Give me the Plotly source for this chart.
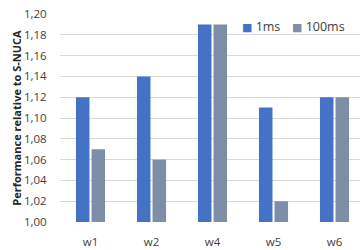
import plotly.graph_objects as go

categories = ["w1", "w2", "w4", "w5", "w6"]
s1_name = "1ms"
s1_values = [1.12, 1.14, 1.19, 1.11, 1.12]
s2_name = "100ms"
s2_values = [1.07, 1.06, 1.19, 1.02, 1.12]
y_ticks = [1.00, 1.02, 1.04, 1.06, 1.08, 1.10, 1.12, 1.14, 1.16, 1.18, 1.20]
baseline = 1.0
colors = ["#4472C4", "#7F8EA8"]

fig = go.Figure()
for name, vals, col in [(s1_name, s1_values, colors[0]), (s2_name, s2_values, colors[1])]:
    fig.add_trace(go.Bar(name=name, x=categories, y=[v - baseline for v in vals], base=baseline,
                         marker=dict(color=col, line=dict(width=0)), hoverinfo="skip"))

W, H = 360, 250
fig.update_layout(
    width=W, height=H,
    margin=dict(l=60, r=0, t=14, b=28, pad=0, autoexpand=False),
    paper_bgcolor="white", plot_bgcolor="white",
    barmode="group", bargap=0.49, bargroupgap=0.13,
    separators=", ",
    font=dict(family="Open Sans, DejaVu Sans, sans-serif", size=11, color="#404040"),
    showlegend=False,
    xaxis=dict(type="category", range=[-0.5, 4.418], showgrid=False, zeroline=False,
               showline=False, ticks="outside", ticklen=9, tickcolor="rgba(0,0,0,0)",
               automargin=False, tickfont=dict(size=11.5, color="#404040")),
    yaxis=dict(range=[1.0, 1.2], tickvals=y_ticks, tickformat=".2f", automargin=False,
               showgrid=True, gridcolor="#D9D9D9", gridwidth=1, zeroline=False,
               showline=False, ticks="outside", ticklen=10, tickcolor="rgba(0,0,0,0)",
               tickfont=dict(size=11.5, color="#404040"),
               title=dict(text="<b>Performance relative to S-NUCA</b>",
                          font=dict(size=11, color="#262626"), standoff=0)),
)

legend_x = [0.60, 0.765]
for name, col, lx in zip([s1_name, s2_name], colors, legend_x):
    fig.add_annotation(xref="paper", yref="paper", x=lx, y=0.94, xanchor="left", yanchor="middle",
                       showarrow=False,
                       text=f"<span style='color:{col};font-size:11px'>■</span> {name}",
                       font=dict(size=12.5, color="#404040"))

fig.write_html("out.html", config={"displayModeBar": False},
               post_script="document.body.style.margin='0';")
